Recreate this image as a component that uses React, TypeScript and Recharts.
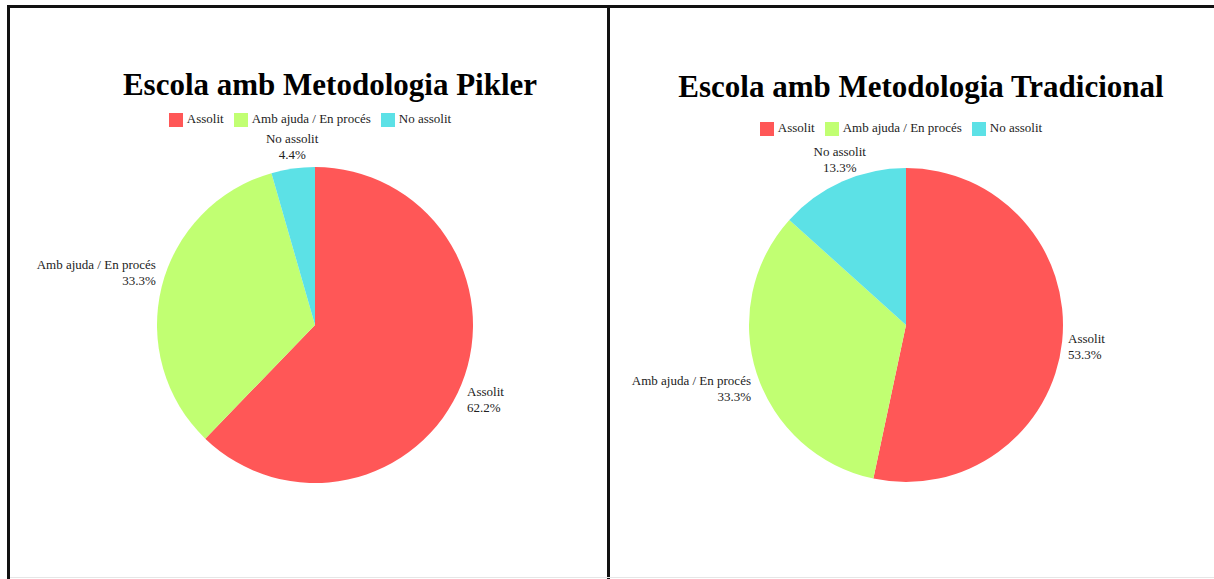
import React from 'react';
import { PieChart, Pie, Cell, Legend } from 'recharts';

const categories = ['Assolit', 'Amb ajuda / En procés', 'No assolit'];
const piklerValues = [28, 15, 2];
const tradicionalValues = [24, 15, 6];
const colors = ['#FF5757', '#C1FF72', '#5CE1E6'];

const FONT = '"Liberation Serif", "Times New Roman", serif';
const RAD = Math.PI / 180;

const toRows = (values: number[]) => {
  const total = values.reduce((a, b) => a + b, 0);
  return categories.map((name, i) => ({ name, value: values[i], pct: (values[i] / total) * 100 }));
};

const renderLabel = (props: any) => {
  const { cx, cy, midAngle, outerRadius, payload } = props;
  const R = outerRadius + 6;
  const c = Math.cos(midAngle * RAD);
  const s = Math.sin(midAngle * RAD);
  const px = cx + R * c;
  const py = cy - R * s;
  const anchor = c > 0.5 ? 'start' : c < -0.5 ? 'end' : 'middle';
  const dy = Math.max(-16, Math.min(14, -s * 50));
  const mid = py + dy;
  return (
    <text x={px} y={mid - 4} textAnchor={anchor} fill="#222" fontSize={13} fontFamily={FONT}>
      <tspan x={px} y={mid - 4}>{payload.name}</tspan>
      <tspan x={px} y={mid + 12}>{payload.pct.toFixed(1) + '%'}</tspan>
    </text>
  );
};

interface PanelProps {
  title: string;
  values: number[];
  left: number;
  width: number;
  cx: number;
  radius: number;
  titleX: number;
  titleY: number;
  legendTop: number;
}

const Panel: React.FC<PanelProps> = ({ title, values, left, width, cx, radius, titleX, titleY, legendTop }) => {
  const data = toRows(values);
  return (
    <div style={{ position: 'absolute', left, top: 0, width, height: 579 }}>
      <div
        style={{
          position: 'absolute',
          left: titleX - 300,
          width: 600,
          top: titleY - 20,
          textAlign: 'center',
          fontFamily: FONT,
          fontWeight: 'bold',
          fontSize: 31,
          lineHeight: '40px',
          color: '#000',
        }}
      >
        {title}
      </div>
      <PieChart width={width} height={579} margin={{ top: 0, right: 0, bottom: 0, left: 0 }}>
        <Legend
          verticalAlign="top"
          iconType="square"
          iconSize={14}
          itemSorter={(e: any) => categories.indexOf(e.value)}
          wrapperStyle={{ top: legendTop, left: cx - width / 2, width, fontFamily: FONT, fontSize: 13 }}
          formatter={(v: any) => <span style={{ color: '#222' }}>{v}</span>}
        />
        <Pie
          data={data}
          dataKey="value"
          nameKey="name"
          cx={cx}
          cy={309}
          outerRadius={radius}
          startAngle={90}
          endAngle={-270}
          stroke="none"
          label={renderLabel}
          labelLine={false}
          isAnimationActive={false}
        >
          {data.map((d, i) => (
            <Cell key={d.name} fill={colors[i]} />
          ))}
        </Pie>
      </PieChart>
    </div>
  );
};

export default function App() {
  return (
    <div style={{ position: 'fixed', left: 0, top: 0, width: 1214, height: 579, background: '#fff', overflow: 'hidden' }}>
      <Panel title="Escola amb Metodologia Pikler" values={piklerValues} left={0} width={608} cx={315} radius={158} titleX={330} titleY={85} legendTop={111} />
      <Panel title="Escola amb Metodologia Tradicional" values={tradicionalValues} left={608} width={606} cx={298} radius={157} titleX={313} titleY={87} legendTop={120} />
      <div style={{ position: 'absolute', left: 7, top: 5, width: 1207, height: 3, background: '#111' }} />
      <div style={{ position: 'absolute', left: 7, top: 5, width: 3, height: 574, background: '#111' }} />
      <div style={{ position: 'absolute', left: 607, top: 5, width: 3, height: 574, background: '#111' }} />
      <div style={{ position: 'absolute', left: 10, top: 577, width: 1204, height: 1, background: '#e6e6e6' }} />
    </div>
  );
}
